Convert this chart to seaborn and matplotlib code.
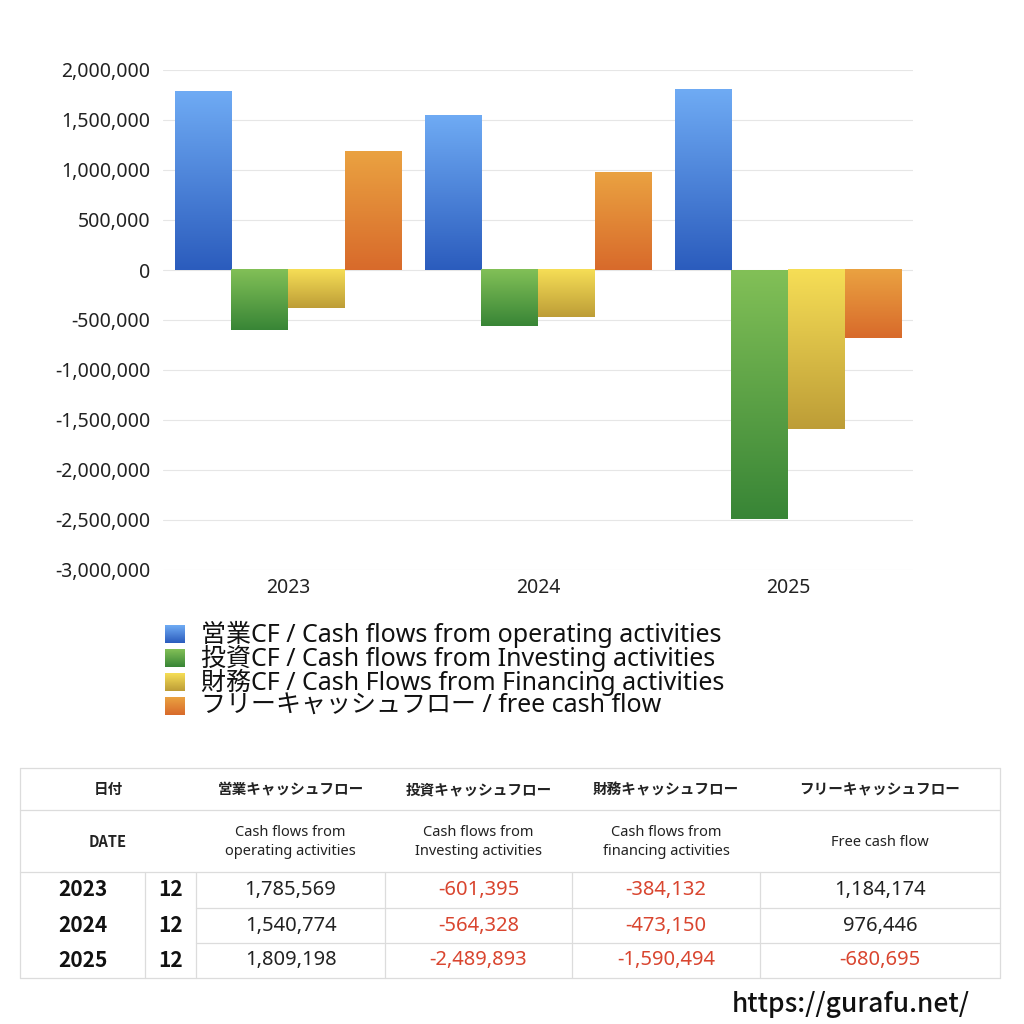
import numpy as np
import pandas as pd
import matplotlib
matplotlib.use("Agg")
import matplotlib.pyplot as plt
import seaborn as sns
from matplotlib.colors import LinearSegmentedColormap

# Data (yen, thousand units as in the table)
years = ["2023", "2024", "2025"]
months = ["12", "12", "12"]
operating_cf = [1785569, 1540774, 1809198]
investing_cf = [-601395, -564328, -2489893]
financing_cf = [-384132, -473150, -1590494]
free_cf = [1184174, 976446, -680695]

series_labels = [
    "営業CF / Cash flows from operating activities",
    "投資CF / Cash flows from Investing activities",
    "財務CF / Cash Flows from Financing activities",
    "フリーキャッシュフロー / free cash flow",
]
table_head_jp = ["営業キャッシュフロー", "投資キャッシュフロー", "財務キャッシュフロー", "フリーキャッシュフロー"]
table_head_en = ["Cash flows from\noperating activities", "Cash flows from\nInvesting activities",
                 "Cash flows from\nfinancing activities", "Free cash flow"]

# gradient colours (top, bottom) per series
grad = [("#6fabf4", "#2b5cbd"), ("#82c057", "#388536"),
        ("#f6de56", "#bd9d37"), ("#eaa241", "#d86a2b")]

sns.set_theme(style="white")
plt.rcParams["font.family"] = ["Noto Sans", "Noto Sans CJK JP", "DejaVu Sans"]
BOLD = ["Noto Sans CJK JP", "DejaVu Sans"]

df = pd.DataFrame({
    "year": years * 4,
    "series": sum([[s] * 3 for s in series_labels], []),
    "value": operating_cf + investing_cf + financing_cf + free_cf,
})

W = H = 1024
fig = plt.figure(figsize=(10.24, 10.24), dpi=100)


def fx(px):
    return px / W


def fy(py):
    return 1 - py / H


ax = fig.add_axes([fx(163), fy(570), fx(913) - fx(163), fy(70) - fy(570)])
sns.barplot(data=df, x="year", y="value", hue="series", hue_order=series_labels,
            palette=[g[1] for g in grad], width=0.905, legend=False, ax=ax, errorbar=None)

ax.set_ylim(-3000000, 2000000)
ax.set_yticks(np.arange(-3000000, 2000001, 500000))
ax.yaxis.set_major_formatter(matplotlib.ticker.FuncFormatter(lambda v, p: f"{int(v):,}"))
ax.set_xlim(-0.5, 2.5)
ax.grid(axis="y", color="#e6e6e6", linewidth=0.8)
ax.set_axisbelow(True)
for s in ax.spines.values():
    s.set_visible(False)
ax.tick_params(axis="both", length=0, labelsize=14, colors="#222222", pad=9)
ax.tick_params(axis="x", pad=6)
ax.set_xlabel("")
ax.set_ylabel("")

# gradient fill on each bar
for i, cont in enumerate(ax.containers):
    cmap = LinearSegmentedColormap.from_list(f"g{i}", [grad[i][1], grad[i][0]])
    for bar in cont:
        x0, y0 = bar.get_x(), bar.get_y()
        w, h = bar.get_width(), bar.get_height()
        lo, hi = min(y0, y0 + h), max(y0, y0 + h)
        bar.set_alpha(0)
        ax.imshow(np.linspace(0, 1, 256).reshape(-1, 1), cmap=cmap, origin="lower",
                  extent=[x0, x0 + w, lo, hi], aspect="auto", zorder=2)
ax.set_xlim(-0.5, 2.5)
ax.set_ylim(-3000000, 2000000)

# legend with gradient squares
for i, lab in enumerate(series_labels):
    cy = 634 + i * 24
    lax = fig.add_axes([fx(165), fy(cy + 9), fx(20), fy(cy - 9) - fy(cy + 9)])
    cmap = LinearSegmentedColormap.from_list(f"l{i}", [grad[i][1], grad[i][0]])
    lax.imshow(np.linspace(0, 1, 64).reshape(-1, 1), cmap=cmap, origin="lower", aspect="auto")
    lax.axis("off")
    fig.text(fx(201), fy(cy), lab, fontsize=18, va="center", ha="left", color="#111111")

# table
line_c = "#dcdcdc"
tl, tr = 20, 1000
rows_y = [768, 810, 872, 908, 943, 978]
col_x = [20, 145, 196, 385, 572, 760, 1000]


def hline(y, x0, x1):
    fig.add_artist(plt.Line2D([fx(x0), fx(x1)], [fy(y), fy(y)], color=line_c, lw=0.9))


def vline(x, y0, y1):
    fig.add_artist(plt.Line2D([fx(x), fx(x)], [fy(y0), fy(y1)], color=line_c, lw=0.9))


hline(768, tl, tr)
hline(810, tl, tr)
hline(872, tl, tr)
hline(908, 196, tr)
hline(943, 196, tr)
hline(978, tl, tr)
vline(tl, 768, 978)
vline(tr, 768, 978)
for x in col_x[1:-1]:
    vline(x, 872, 978)

fig.text(fx(108), fy(789), "日付", fontsize=10.5, fontweight="bold", family=BOLD,
         ha="center", va="center", color="#222")
fig.text(fx(108), fy(842), "DATE", fontsize=10.5, fontweight="bold", family=BOLD,
         ha="center", va="center", color="#222")
for j in range(4):
    cx = (col_x[j + 2] + col_x[j + 3]) / 2
    fig.text(fx(cx), fy(789), table_head_jp[j], fontsize=10.5, fontweight="bold", family=BOLD,
             ha="center", va="center", color="#222")
    fig.text(fx(cx), fy(842), table_head_en[j], fontsize=10.5, ha="center", va="center",
             color="#222", linespacing=1.3)

values = [operating_cf, investing_cf, financing_cf, free_cf]
for r in range(3):
    cy = (rows_y[r + 2] + rows_y[r + 3]) / 2
    fig.text(fx(83), fy(cy), years[r], fontsize=15, fontweight="bold", family=BOLD,
             ha="center", va="center", color="#111")
    fig.text(fx(171), fy(cy), months[r], fontsize=15, fontweight="bold", family=BOLD,
             ha="center", va="center", color="#111")
    for j in range(4):
        v = values[j][r]
        cx = (col_x[j + 2] + col_x[j + 3]) / 2
        fig.text(fx(cx), fy(cy), f"{v:,}", fontsize=14.5, ha="center", va="center",
                 color="#d9452f" if v < 0 else "#222222")

fig.text(fx(970), fy(1004), "https://gurafu.net/", fontsize=19, ha="right", va="center",
         color="#111111", fontweight="medium", family=BOLD)

fig.savefig("out.png", dpi=100, facecolor="white")
